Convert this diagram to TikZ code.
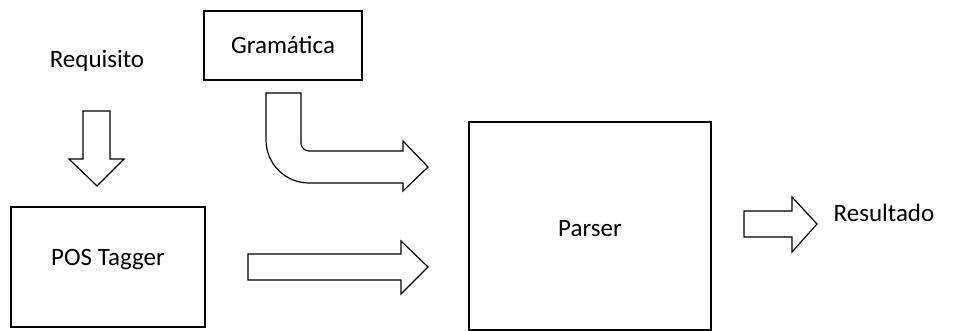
\documentclass[tikz,border=0pt]{standalone}
\usepackage{fontspec}
\setmainfont{Carlito}
\begin{document}
\begin{tikzpicture}[x=1pt,y=-1pt,
  blk/.style={draw,line width=1.2pt,line join=miter,fill=white},
  frame/.style={draw,line width=1.2pt},
  lbl/.style={font=\fontsize{25}{29}\selectfont,anchor=base,inner sep=0pt}]
\useasboundingbox (0,0) rectangle (970,331);
% boxes
\draw[frame] (204,11) rectangle (362,80);
\node[inner sep=0pt] (gram) at (283,45.5) {};
\draw[frame] (11,207) rectangle (205,327);
\node[inner sep=0pt] (pos) at (108,267) {};
\draw[frame] (469,122) rectangle (711,330);
\node[inner sep=0pt] (parser) at (590,226) {};
% labels
\node[lbl] (treq) at (97,68) {Requisito};
\node[lbl] (tgram) at (283,54) {Gramática};
\node[lbl] (tpos) at (108,266) {POS Tagger};
\node[lbl] (tparser) at (590,237) {Parser};
\node[lbl] (tres) at (884,222) {Resultado};
% down arrow
\draw[blk] (83,111) -- (110,111) -- (110,159) -- (124,159) -- (97,186) -- (69,159) -- (83,159) -- cycle;
% bent arrow
\draw[blk] (266,93) -- (301,93) -- (301,143) .. controls (301,147.4) and (304.6,151) .. (309,151)
  -- (403,151) -- (403,141) -- (428,167) -- (403,191) -- (403,183) -- (309,183)
  .. controls (285.3,183) and (266,163.7) .. (266,140) -- cycle;
% lower arrow
\draw[blk] (248,254) -- (401,254) -- (401,241) -- (428,267) -- (401,294) -- (401,280) -- (248,280) -- cycle;
% right arrow
\draw[blk] (744,211) -- (792,211) -- (792,197) -- (817,224) -- (792,252) -- (792,237) -- (744,237) -- cycle;
\end{tikzpicture}
\end{document}
